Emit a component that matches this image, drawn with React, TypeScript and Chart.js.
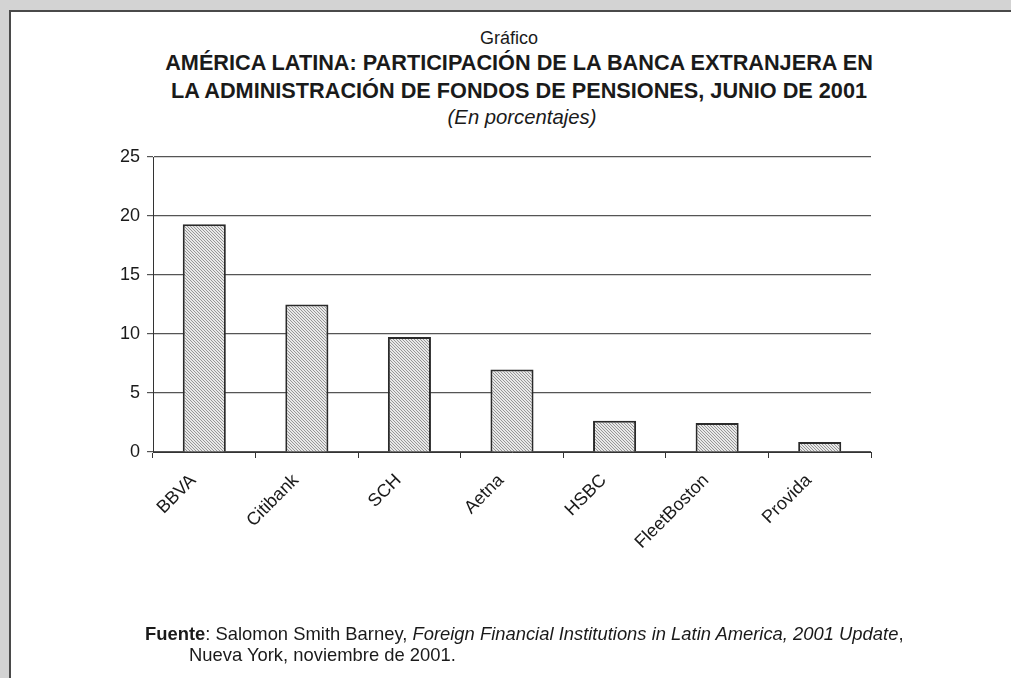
import React, { useEffect, useRef } from "react";
import { Chart, registerables } from "chart.js";
Chart.register(...registerables);

const categories = ["BBVA", "Citibank", "SCH", "Aetna", "HSBC", "FleetBoston", "Provida"];
const values = [19.3, 12.5, 9.75, 7.0, 2.65, 2.45, 0.85];
const yMin = 0;
const yMax = 25;
const yStep = 5;

const FONT = "'Liberation Sans', Arial, Helvetica, sans-serif";

function makePattern(): CanvasPattern | string {
  const c = document.createElement("canvas");
  c.width = 3;
  c.height = 3;
  const ctx = c.getContext("2d");
  if (!ctx) return "#cccccc";
  ctx.fillStyle = "#e8e8e8";
  ctx.fillRect(0, 0, 3, 3);
  ctx.fillStyle = "#969696";
  for (let i = 0; i < 3; i++) ctx.fillRect(i, i, 1, 1);
  return ctx.createPattern(c, "repeat") || "#cccccc";
}

export default function App() {
  const ref = useRef<HTMLCanvasElement | null>(null);

  useEffect(() => {
    if (!ref.current) return;
    const chart = new Chart(ref.current, {
      type: "bar",
      data: {
        labels: categories,
        datasets: [
          {
            data: values,
            backgroundColor: makePattern() as any,
            borderColor: "#2a2a2a",
            borderWidth: 2,
            barPercentage: 0.42,
            categoryPercentage: 1,
          },
        ],
      },
      options: {
        responsive: false,
        animation: false,
        layout: { padding: { left: 93, top: 157, right: 140, bottom: 106 } },
        plugins: { legend: { display: false }, tooltip: { enabled: false } },
        scales: {
          y: {
            min: yMin,
            max: yMax,
            ticks: { stepSize: yStep, color: "#1a1a1a", font: { family: FONT, size: 18 }, padding: 7 },
            grid: { color: "#555", lineWidth: 1.2, tickLength: 6, drawTicks: true },
            border: { color: "#333", width: 1 },
            afterFit: (s: any) => {
              s.width = 60;
            },
          },
          x: {
            offset: true,
            ticks: {
              minRotation: 45,
              maxRotation: 45,
              color: "#1a1a1a",
              font: { family: FONT, size: 18 },
              autoSkip: false,
              padding: 12,
              labelOffset: -11,
            },
            grid: { drawOnChartArea: false, drawTicks: true, tickLength: 6, offset: true, color: "#333" },
            border: { color: "#333", width: 1 },
            afterFit: (s: any) => {
              s.height = 120;
            },
          },
        },
      },
    });
    return () => chart.destroy();
  }, []);

  const line = (top: number, center: number, text: string, style: React.CSSProperties) => (
    <div
      style={{
        position: "absolute",
        left: center - 500,
        width: 1000,
        top,
        textAlign: "center",
        fontFamily: FONT,
        color: "#1a1a1a",
        whiteSpace: "nowrap",
        ...style,
      }}
    >
      {text}
    </div>
  );

  return (
    <div style={{ position: "fixed", left: 0, top: 0, width: 1011, height: 678, background: "#d3d3d3", overflow: "hidden" }}>
      <div
        style={{
          position: "absolute",
          left: 9,
          top: 10,
          right: 0,
          bottom: 0,
          background: "#fff",
          borderTop: "2px solid #4a4a4a",
          borderLeft: "2px solid #4a4a4a",
        }}
      />
      {line(27.5, 509, "Gráfico", { fontSize: 18 })}
      {line(49.5, 519, "AMÉRICA LATINA: PARTICIPACIÓN DE LA BANCA EXTRANJERA EN", { fontSize: 21.7, fontWeight: "bold" })}
      {line(77.5, 519, "LA ADMINISTRACIÓN DE FONDOS DE PENSIONES, JUNIO DE 2001", { fontSize: 21.7, fontWeight: "bold" })}
      {line(105.5, 522, "(En porcentajes)", { fontSize: 20.3, fontStyle: "italic" })}
      <canvas ref={ref} width={1011} height={678} style={{ position: "absolute", left: 0, top: 0 }} />
      <div style={{ position: "absolute", left: 145, top: 623, fontFamily: FONT, fontSize: 18.4, color: "#1a1a1a", whiteSpace: "nowrap" }}>
        <b>Fuente</b>: Salomon Smith Barney, <i>Foreign Financial Institutions in Latin America, 2001 Update</i>,
      </div>
      <div style={{ position: "absolute", left: 189, top: 644, fontFamily: FONT, fontSize: 18.4, color: "#1a1a1a", whiteSpace: "nowrap" }}>
        Nueva York, noviembre de 2001.
      </div>
    </div>
  );
}
